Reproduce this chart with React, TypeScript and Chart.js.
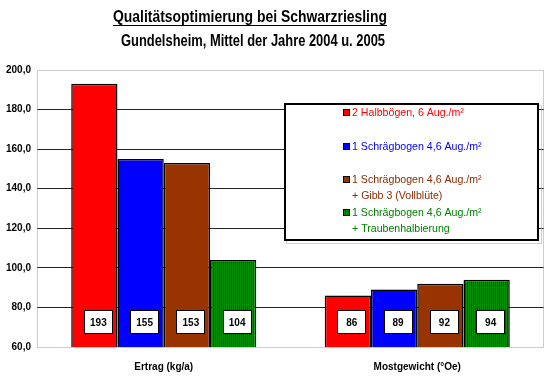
import React, { useEffect, useRef } from "react";
import { Chart, registerables } from "chart.js";

Chart.register(...registerables);

const categories = ["Ertrag (kg/a)", "Mostgewicht (°Oe)"];
const titleLine1 = "Qualitätsoptimierung bei Schwarzriesling";
const titleLine2 = "Gundelsheim, Mittel der Jahre 2004 u. 2005";

const halbboegen = [193, 86];
const schraegbogen = [155, 89];
const schraegbogenGibb = [153, 92];
const schraegbogenHalbierung = [104, 94];

const legendLines = [
  ["2 Halbbögen, 6 Aug./m²"],
  ["1 Schrägbogen 4,6 Aug./m²"],
  ["1 Schrägbogen 4,6 Aug./m²", "+ Gibb 3 (Vollblüte)"],
  ["1 Schrägbogen 4,6 Aug./m²", "+ Traubenhalbierung"],
];

const yMin = 60;
const yMax = 200;
const yStep = 20;
const labelValue = 72.6;

const SANS = '"Liberation Sans", Arial, sans-serif';
const NARROW = '"Liberation Sans Narrow", "Arial Narrow", "Liberation Sans", Arial, sans-serif';

function makeGreenPattern(): CanvasPattern | string {
  const c = document.createElement("canvas");
  c.width = 2;
  c.height = 2;
  const g = c.getContext("2d");
  if (!g) return "#008000";
  g.fillStyle = "#009000";
  g.fillRect(0, 0, 2, 2);
  g.fillStyle = "#005a00";
  g.fillRect(1, 0, 1, 2);
  const p = g.createPattern(c, "repeat");
  return p || "#008000";
}

function fitText(ctx: CanvasRenderingContext2D, text: string, cx: number, y: number, targetW: number) {
  const w = ctx.measureText(text).width;
  const sx = Math.min(1, targetW / w);
  ctx.save();
  ctx.translate(cx, y);
  ctx.scale(sx, 1);
  ctx.textAlign = "center";
  ctx.fillText(text, 0, 0);
  ctx.restore();
  return w * sx;
}

export default function App() {
  const ref = useRef<HTMLCanvasElement | null>(null);

  useEffect(() => {
    const canvas = ref.current;
    if (!canvas) return;
    const green = makeGreenPattern();
    const legendColors = ["#ff0000", "#0000ff", "#8a2a00", "#008000"];
    const legendFill: any[] = ["#ff0000", "#0000ff", "#993300", green];

    const titlePlugin = {
      id: "titles",
      afterDraw(chart: any) {
        const ctx = chart.ctx;
        ctx.save();
        ctx.fillStyle = "#000";
        ctx.textBaseline = "alphabetic";
        ctx.font = "bold 16px " + NARROW;
        const cx = 250;
        const w = fitText(ctx, titleLine1, cx, 22, 274);
        ctx.fillRect(Math.round(cx - w / 2), 25, Math.round(w), 1);
        ctx.font = "bold 16px " + NARROW;
        fitText(ctx, titleLine2, 253, 46, 264);
        ctx.restore();
      },
    };

    const borderPlugin = {
      id: "plotBorder",
      beforeDatasetsDraw(chart: any) {
        const { ctx, chartArea } = chart;
        ctx.save();
        ctx.strokeStyle = "#9a9a9a";
        ctx.lineWidth = 1;
        ctx.setLineDash([1, 1]);
        ctx.strokeRect(
          chartArea.left + 0.5,
          chartArea.top + 0.5,
          chartArea.right - chartArea.left - 1,
          chartArea.bottom - chartArea.top
        );
        ctx.restore();
      },
    };

    const labelPlugin = {
      id: "valueLabels",
      afterDatasetsDraw(chart: any) {
        const ctx = chart.ctx;
        const yScale = chart.scales.y;
        const cy = yScale.getPixelForValue(labelValue);
        ctx.save();
        ctx.font = "bold 10px " + SANS;
        ctx.textAlign = "center";
        ctx.textBaseline = "middle";
        chart.data.datasets.forEach((ds: any, i: number) => {
          const meta = chart.getDatasetMeta(i);
          meta.data.forEach((el: any, j: number) => {
            const cx = el.x + 4;
            const w = 29;
            const h = 24;
            const x0 = Math.round(cx - w / 2);
            const y0 = Math.round(cy - h / 2);
            ctx.fillStyle = "#ffffff";
            ctx.fillRect(x0, y0, w, h);
            ctx.strokeStyle = "#000";
            ctx.lineWidth = 1;
            ctx.strokeRect(x0 + 0.5, y0 + 0.5, w - 1, h - 1);
            ctx.fillStyle = "#000";
            ctx.fillText(String(ds.data[j]), cx, cy + 1);
          });
        });
        ctx.restore();
      },
    };

    const legendPlugin = {
      id: "boxLegend",
      afterDraw(chart: any) {
        const ctx = chart.ctx;
        const bx = 284;
        const by = 103;
        const bw = 255;
        const bh = 138;
        ctx.save();
        ctx.strokeStyle = "#a0a0a0";
        ctx.setLineDash([1, 1]);
        ctx.lineWidth = 1;
        ctx.strokeRect(bx + 2.5, by + 2.5, bw, bh);
        ctx.setLineDash([]);
        ctx.fillStyle = "#fff";
        ctx.fillRect(bx, by, bw, bh);
        ctx.strokeStyle = "#000";
        ctx.lineWidth = 2;
        ctx.strokeRect(bx + 1, by + 1, bw - 2, bh - 2);
        const rows = [113, 147, 180, 213];
        ctx.font = "10.6px " + SANS;
        ctx.textAlign = "left";
        ctx.textBaseline = "middle";
        legendLines.forEach((lines, i) => {
          const ry = rows[i];
          ctx.fillStyle = legendFill[i];
          ctx.fillRect(343, ry - 4, 7, 7);
          ctx.strokeStyle = "#000";
          ctx.lineWidth = 1;
          ctx.strokeRect(343.5, ry - 3.5, 6, 6);
          ctx.fillStyle = legendColors[i];
          lines.forEach((t, k) => {
            ctx.fillText(t, 352, ry + k * 16);
          });
        });
        ctx.restore();
      },
    };

    const mkDs = (label: string, data: number[], color: any) => ({
      label,
      data,
      backgroundColor: color,
      borderColor: "#000",
      borderWidth: 1.5,
      borderSkipped: false as any,
      categoryPercentage: 0.73,
      barPercentage: 1.0,
    });

    const chart = new Chart(canvas, {
      type: "bar",
      data: {
        labels: categories,
        datasets: [
          mkDs(legendLines[0].join(" "), halbboegen, "#ff0000"),
          mkDs(legendLines[1].join(" "), schraegbogen, "#0000ff"),
          mkDs(legendLines[2].join(" "), schraegbogenGibb, "#993300"),
          mkDs(legendLines[3].join(" "), schraegbogenHalbierung, green),
        ],
      },
      options: {
        animation: false,
        responsive: false,
        layout: { padding: { top: 70, right: 12, left: 0, bottom: 0 } },
        plugins: {
          legend: { display: false },
          title: { display: false },
          tooltip: { enabled: false },
        },
        scales: {
          x: {
            grid: { display: false, drawTicks: false },
            border: { display: false },
            ticks: {
              color: "#000",
              font: { family: SANS, size: 10, weight: "bold" },
              padding: 14,
            },
            afterFit: (s: any) => {
              s.height = 31;
            },
          },
          y: {
            min: yMin,
            max: yMax,
            grid: {
              drawTicks: false,
              color: (c: any) =>
                c.tick && (c.tick.value === yMin || c.tick.value === yMax)
                  ? "rgba(0,0,0,0)"
                  : "#222",
              lineWidth: 1,
            },
            border: { display: false },
            ticks: {
              stepSize: yStep,
              color: "#000",
              font: { family: SANS, size: 10, weight: "bold" },
              padding: 6,
              callback: (v: any) => Number(v).toFixed(1).replace(".", ","),
            },
            afterFit: (s: any) => {
              s.width = 37;
            },
          },
        },
      },
      plugins: [borderPlugin, labelPlugin, legendPlugin, titlePlugin],
    });
    return () => chart.destroy();
  }, []);

  return (
    <div style={{ position: "absolute", left: 0, top: 0, width: 556, height: 378, background: "#fff" }}>
      <canvas ref={ref} width={556} height={378} style={{ display: "block" }} />
    </div>
  );
}
